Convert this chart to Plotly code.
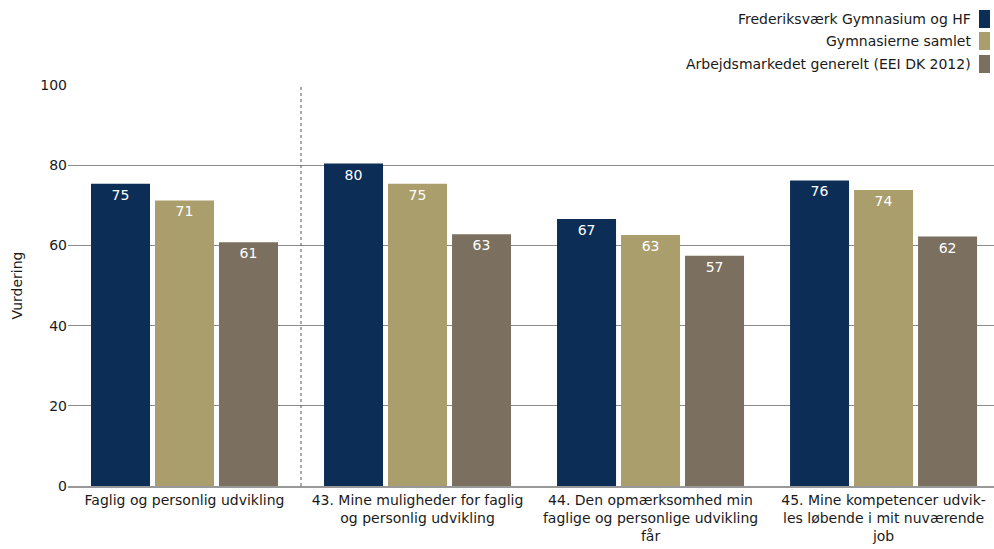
import plotly.graph_objects as go

categories = [
    "Faglig og personlig udvikling",
    "43. Mine muligheder for faglig<br>og personlig udvikling",
    "44. Den opmærksomhed min<br>faglige og personlige udvikling<br>får",
    "45. Mine kompetencer udvik-<br>les løbende i mit nuværende<br>job",
]
series_names = [
    "Frederiksværk Gymnasium og HF",
    "Gymnasierne samlet",
    "Arbejdsmarkedet generelt (EEI DK 2012)",
]
frederiksvaerk = [75.4, 80.4, 66.6, 76.2]
gymnasierne = [71.2, 75.4, 62.6, 73.8]
arbejdsmarked = [60.8, 62.8, 57.4, 62.2]
labels_f = ["75", "80", "67", "76"]
labels_g = ["71", "75", "63", "74"]
labels_a = ["61", "63", "57", "62"]
y_ticks = [0, 20, 40, 60, 80, 100]

colors = ["#0c2e56", "#aa9e6d", "#7b6f5f"]
FONT = "DejaVu Sans"

L, R, T, B = 68, 0, 85, 63
W, H = 994, 549
PW, PH = W - L - R, H - T - B


def px_x(x):
    return (x - L) / PW


def px_y(y):
    return (H - B - y) / PH


fig = go.Figure()
for name, vals, labs, col in zip(series_names,
                                 [frederiksvaerk, gymnasierne, arbejdsmarked],
                                 [labels_f, labels_g, labels_a], colors):
    fig.add_trace(go.Bar(
        x=categories, y=vals, name=name, marker_color=col,
        marker_line_width=0,
        text=labs, textposition="inside", insidetextanchor="end",
        textfont=dict(color="white", size=14, family=FONT),
        textangle=0, showlegend=False, cliponaxis=False,
    ))

# dotted separator after first category
fig.add_shape(type="line", xref="x", yref="y", x0=0.5, x1=0.5, y0=0, y1=100,
              line=dict(color="#555555", width=1, dash="dot"))

# custom legend (text on the left, swatch on the right)
rows_y = [19, 41, 64]
for name, col, yy in zip(series_names, colors, rows_y):
    fig.add_annotation(xref="paper", yref="paper", x=px_x(973), y=px_y(yy),
                       text=name, showarrow=False, xanchor="right", yanchor="middle",
                       font=dict(family=FONT, size=14, color="#1a1a1a"))
    fig.add_annotation(xref="paper", yref="paper", x=px_x(979), y=px_y(yy),
                       text="", showarrow=False, xanchor="left", yanchor="middle",
                       width=11, height=18, bgcolor=col, borderpad=0, borderwidth=0)

fig.update_layout(
    width=W, height=H,
    margin=dict(l=L, r=R, t=T, b=B, autoexpand=False),
    barmode="group", bargap=0.176, bargroupgap=0.078,
    plot_bgcolor="white", paper_bgcolor="white",
    font=dict(family=FONT, size=14, color="#1a1a1a"),
    uniformtext=dict(mode="show", minsize=14),
    hovermode=False,
)
fig.update_xaxes(range=[-0.5, 3.474], showgrid=False, showline=True,
                 linecolor="#999999", linewidth=2, ticks="", automargin=False,
                 tickfont=dict(size=14, family=FONT), tickangle=0)
fig.update_yaxes(range=[0, 100], tickvals=y_ticks, showgrid=True,
                 gridcolor="#8c8c8c", gridwidth=1, zeroline=False, automargin=False,
                 title=dict(text="Vurdering", standoff=14, font=dict(size=14, family=FONT)),
                 tickfont=dict(size=14, family=FONT), ticks="")

fig.write_html(
    "out.html",
    config={"displayModeBar": False},
    post_script="document.body.style.margin='0';document.body.style.overflow='hidden';",
)
